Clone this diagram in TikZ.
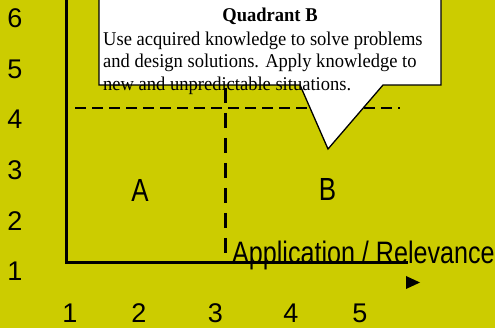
\documentclass[tikz,border=0pt]{standalone}
\usepackage{fontspec}
\setmainfont[FakeStretch=0.95]{Liberation Serif}
\setsansfont{Liberation Sans}
\newfontfamily\chartsans[FakeStretch=0.81]{Liberation Sans}
\usepackage{xcolor}
\usetikzlibrary{positioning}

\definecolor{chartbg}{RGB}{204,204,0}

\begin{document}
\begin{tikzpicture}[
    x=1pt,
    y=-1pt,
    tick/.style={
        inner sep=0pt,
        font=\sffamily\fontsize{27}{27}\selectfont
    },
    quad/.style={
        inner sep=0pt,
        font=\chartsans\fontsize{31}{31}\selectfont
    },
    axis/.style={
        line width=3pt
    },
    split/.style={
        dash pattern=on 11pt off 6pt,
        line width=2pt
    },
    callout/.style={
        fill=white,
        draw,
        line width=1.3pt,
        line join=miter
    },
    note/.style={
        inner sep=0pt,
        align=left,
        font=\fontsize{19.5}{22.5}\selectfont
    }
]

\useasboundingbox (0,0) rectangle (495,328);
\clip (0,0) rectangle (495,328);
\fill[chartbg] (0,0) rectangle (495,328);

% Axes
\coordinate (ytop) at (66,-5);
\coordinate (origin) at (66,263);
\coordinate (xend) at (408,263);
\draw[axis] (ytop) -- (origin) -- (xend);
\fill (406,276) -- (420,282.5) -- (406,289) -- cycle;

% Quadrant borders
\coordinate (hleft) at (75,108);
\coordinate (hright) at (400,108);
\draw[split] (hleft) -- (hright);
\coordinate (vtop) at (225,88);
\coordinate (vbot) at (225,253);
\draw[split, line width=3pt, dash pattern=on 15pt off 10pt] (vtop) -- (vbot);

% Y ticks
\node[tick] (y6) at (15,18.5) {6};
\node[tick] (y5) at (15,69) {5};
\node[tick] (y4) at (15,119.5) {4};
\node[tick] (y3) at (15,170) {3};
\node[tick] (y2) at (15,221) {2};
\node[tick] (y1) at (15,271.5) {1};

% X ticks
\node[tick] (x1) at (70,313) {1};
\node[tick] (x2) at (139,313) {2};
\node[tick] (x3) at (215.5,313) {3};
\node[tick] (x4) at (291,313) {4};
\node[tick] (x5) at (360,313) {5};

% Quadrants
\node[quad, font=\chartsans\fontsize{32}{32}\selectfont] (qa) at (140,190.5) {A};
\node[quad, font=\chartsans\fontsize{32}{32}\selectfont] (qb) at (327.5,189.5) {B};

% Axis label
\node[quad, anchor=base west] (xlabel) at (232,263.5) {Application / Relevance};

% Callout
\draw[callout] (99,-10) -- (99,85) -- (300,85) -- (328,149)
    -- (383,85) -- (441,85) -- (441,-10);

\node[note, font=\bfseries\fontsize{19.5}{22.5}\selectfont, anchor=base]
    (qtitle) at (270,22) {Quadrant B};

\node[note, anchor=north west] (qbody) at (103,31.5)
{Use acquired knowledge to solve problems\\
and design solutions. Apply knowledge to\\
new and unpredictable situations.};

\end{tikzpicture}
\end{document}
